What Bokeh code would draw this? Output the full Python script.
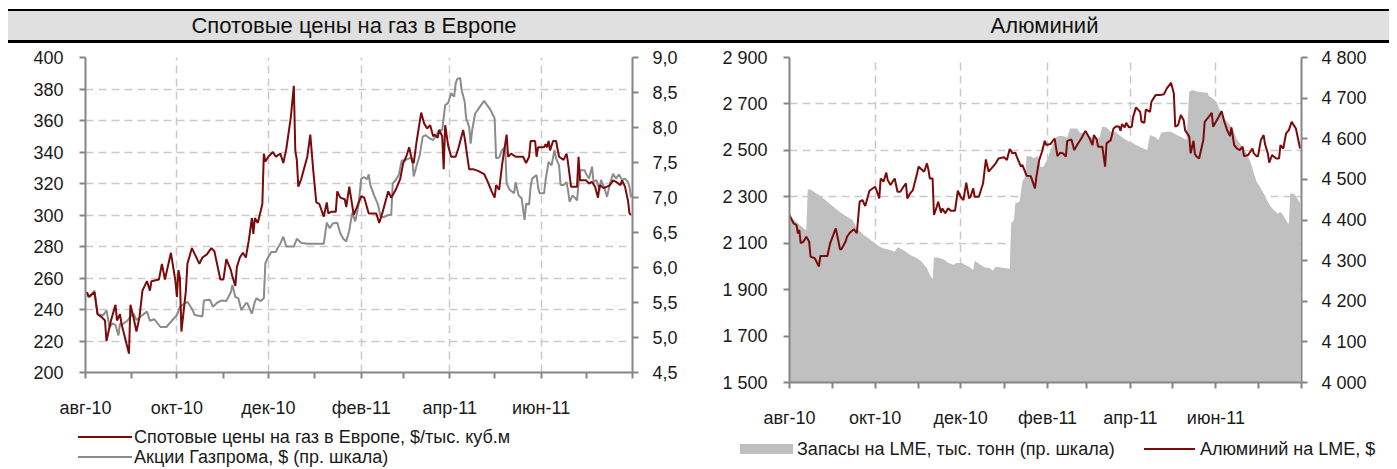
import pandas as pd
from bokeh.plotting import figure
from bokeh.models import Range1d, LinearAxis, FixedTicker, Div
from bokeh.layouts import column, row
from bokeh.embed import file_html
from bokeh.resources import INLINE

FONT = "'Liberation Sans', Arial, sans-serif"
NAN = float("nan")

# ---------------- data: left panel ----------------
gas_dates = [
    "2010-08-02", "2010-08-03", "2010-08-07", "2010-08-09", "2010-08-12", "2010-08-14", "2010-08-15",
    "2010-08-18", "2010-08-21", "2010-08-22", "2010-08-24", "2010-08-25", "2010-08-30", "2010-08-31",
    "2010-09-02", "2010-09-04", "2010-09-06", "2010-09-08", "2010-09-11", "2010-09-13", "2010-09-14",
    "2010-09-19", "2010-09-21", "2010-09-23", "2010-09-27", "2010-09-30", "2010-10-01", "2010-10-02",
    "2010-10-03", "2010-10-04", "2010-10-07", "2010-10-08", "2010-10-11", "2010-10-13", "2010-10-16",
    "2010-10-18", "2010-10-21", "2010-10-24", "2010-10-26", "2010-10-30", "2010-11-01", "2010-11-03",
    "2010-11-06", "2010-11-07", "2010-11-09", "2010-11-10", "2010-11-12", "2010-11-14", "2010-11-16",
    "2010-11-18", "2010-11-20", "2010-11-21", "2010-11-22", "2010-11-24", "2010-11-27", "2010-11-28",
    "2010-11-29", "2010-12-01", "2010-12-04", "2010-12-06", "2010-12-09", "2010-12-11", "2010-12-13",
    "2010-12-16", "2010-12-18", "2010-12-19", "2010-12-20", "2010-12-21", "2010-12-23", "2010-12-27",
    "2010-12-29", "2010-12-31", "2011-01-02", "2011-01-04", "2011-01-07", "2011-01-09", "2011-01-10",
    "2011-01-12", "2011-01-15", "2011-01-16", "2011-01-18", "2011-01-21", "2011-01-22", "2011-01-24",
    "2011-01-27", "2011-02-01", "2011-02-03", "2011-02-06", "2011-02-11", "2011-02-13", "2011-02-15",
    "2011-02-19", "2011-02-21", "2011-02-24", "2011-02-27", "2011-03-01", "2011-03-03", "2011-03-05",
    "2011-03-07", "2011-03-08", "2011-03-10", "2011-03-13", "2011-03-15", "2011-03-17", "2011-03-19",
    "2011-03-21", "2011-03-22", "2011-03-24", "2011-03-25", "2011-03-27", "2011-03-28", "2011-03-29",
    "2011-03-31", "2011-04-02", "2011-04-05", "2011-04-07", "2011-04-10", "2011-04-11", "2011-04-14",
    "2011-04-17", "2011-04-20", "2011-04-24", "2011-04-26", "2011-04-29", "2011-05-01", "2011-05-02",
    "2011-05-04", "2011-05-06", "2011-05-09", "2011-05-10", "2011-05-12", "2011-05-15", "2011-05-18",
    "2011-05-20", "2011-05-22", "2011-05-24", "2011-05-25", "2011-05-28", "2011-05-29", "2011-05-30",
    "2011-06-03", "2011-06-04", "2011-06-05", "2011-06-06", "2011-06-07", "2011-06-09", "2011-06-11",
    "2011-06-13", "2011-06-16", "2011-06-18", "2011-06-19", "2011-06-21", "2011-06-25", "2011-06-26",
    "2011-06-27", "2011-07-01", "2011-07-03", "2011-07-05", "2011-07-07", "2011-07-09", "2011-07-10",
    "2011-07-13", "2011-07-15", "2011-07-17", "2011-07-19", "2011-07-21", "2011-07-24", "2011-07-25",
    "2011-07-27", "2011-07-29", "2011-07-30", "2011-07-31",
]
gas_price = [
    251, 248, 251, 237, 235, 233, 220,
    233, 243, 233, 237, 231, 212, 243,
    235, 226, 235, 252, 258, 252, 258,
    259, 269, 259, 276, 258, 248, 265,
    260, 226, 252, 269, 279, 275, 269,
    273, 275, 279, 277, 259, 259, 272,
    265, 261, 255, 267, 273, 276, 273,
    284, 298, 288, 298, 295, 307, 339,
    334, 337, 340, 337, 339, 333, 342,
    362, 382, 341, 335, 318, 323, 337,
    351, 328, 308, 307, 299, 308, 301,
    302, 302, 315, 311, 310, 305, 318,
    300, 312, 311, 301, 301, 295, 301,
    315, 311, 316, 323, 333, 337, 343,
    334, 333, 347, 365, 358, 355, 357,
    350, 351, 349, 354, 350, 329, 357,
    344, 337, 337, 343, 354, 349, 329,
    329, 328, 326, 322, 315, 311, 319,
    316, 332, 351, 337, 339, 337, 337,
    337, 333, 337, 347, 347, 337, 343,
    343, 345, 343, 347, 341, 347, 347,
    337, 335, 339, 333, 318, 318, 337,
    322, 322, 320, 321, 318, 311, 319,
    317, 318, 319, 322, 321, 319, 322,
    318, 309, 301, 300,
]

gzp_dates = [
    "2010-08-02", "2010-08-04", "2010-08-07", "2010-08-09", "2010-08-11", "2010-08-13", "2010-08-15",
    "2010-08-17", "2010-08-19", "2010-08-21", "2010-08-23", "2010-08-24", "2010-08-25", "2010-08-29",
    "2010-08-31", "2010-09-02", "2010-09-04", "2010-09-08", "2010-09-11", "2010-09-13", "2010-09-16",
    "2010-09-20", "2010-09-24", "2010-09-28", "2010-10-01", "2010-10-03", "2010-10-08", "2010-10-11",
    "2010-10-13", "2010-10-18", "2010-10-19", "2010-10-23", "2010-10-25", "2010-10-28", "2010-10-31",
    "2010-11-03", "2010-11-06", "2010-11-07", "2010-11-09", "2010-11-11", "2010-11-13", "2010-11-16",
    "2010-11-17", "2010-11-20", "2010-11-22", "2010-11-23", "2010-11-26", "2010-11-28", "2010-11-29",
    "2010-12-01", "2010-12-03", "2010-12-06", "2010-12-07", "2010-12-09", "2010-12-11", "2010-12-13",
    "2010-12-16", "2010-12-18", "2010-12-20", "2010-12-23", "2010-12-27", "2011-01-07", "2011-01-09",
    "2011-01-11", "2011-01-13", "2011-01-16", "2011-01-18", "2011-01-20", "2011-01-22", "2011-01-24",
    "2011-01-26", "2011-01-28", "2011-01-30", "2011-02-01", "2011-02-03", "2011-02-05", "2011-02-06",
    "2011-02-07", "2011-02-10", "2011-02-12", "2011-02-14", "2011-02-16", "2011-02-19", "2011-02-21",
    "2011-02-22", "2011-02-24", "2011-02-26", "2011-02-28", "2011-03-02", "2011-03-05", "2011-03-07",
    "2011-03-08", "2011-03-10", "2011-03-12", "2011-03-14", "2011-03-16", "2011-03-19", "2011-03-21",
    "2011-03-23", "2011-03-25", "2011-03-27", "2011-03-29", "2011-03-31", "2011-04-02", "2011-04-04",
    "2011-04-05", "2011-04-06", "2011-04-08", "2011-04-09", "2011-04-11", "2011-04-12", "2011-04-14",
    "2011-04-15", "2011-04-16", "2011-04-18", "2011-04-21", "2011-04-24", "2011-04-28", "2011-05-01",
    "2011-05-02", "2011-05-04", "2011-05-06", "2011-05-08", "2011-05-09", "2011-05-11", "2011-05-14",
    "2011-05-15", "2011-05-17", "2011-05-19", "2011-05-21", "2011-05-22", "2011-05-24", "2011-05-25",
    "2011-05-26", "2011-05-29", "2011-05-30", "2011-05-31", "2011-06-03", "2011-06-04", "2011-06-06",
    "2011-06-08", "2011-06-10", "2011-06-11", "2011-06-13", "2011-06-14", "2011-06-16", "2011-06-18",
    "2011-06-19", "2011-06-20", "2011-06-22", "2011-06-25", "2011-06-26", "2011-06-27", "2011-06-30",
    "2011-07-01", "2011-07-03", "2011-07-05", "2011-07-06", "2011-07-08", "2011-07-10", "2011-07-11",
    "2011-07-13", "2011-07-15", "2011-07-17", "2011-07-19", "2011-07-21", "2011-07-23", "2011-07-25",
    "2011-07-27", "2011-07-29", "2011-07-30", "2011-07-31",
]
gzp_price = [
    5.63, 5.58, 5.67, 5.34, 5.32, 5.32, 5.39,
    5.15, 5.20, 5.18, 5.03, 5.20, 5.18, 5.24,
    5.30, 5.34, 5.25, 5.32, 5.37, 5.24, 5.26,
    5.15, 5.15, 5.25, 5.32, 5.44, 5.51, 5.41,
    5.32, 5.30, 5.53, 5.54, 5.44, 5.50, 5.53,
    5.52, 5.65, 5.75, 5.58, 5.56, 5.39, 5.49,
    5.49, 5.34, 5.51, 5.56, 5.52, 5.56, 6.06,
    6.15, 6.22, 6.22, 6.27, 6.34, 6.44, 6.30,
    6.30, 6.30, 6.41, 6.35, 6.34, 6.34, 6.64,
    6.56, 6.63, 6.64, 6.49, 6.41, 6.37, 6.53,
    6.78, 6.66, 6.87, 7.27, 7.29, 7.26, 7.33,
    7.18, 7.01, 6.91, 6.72, 6.72, 6.75, 6.75,
    7.20, 7.25, 7.32, 7.53, 7.53, 7.56, 7.56,
    7.30, 7.46, 7.60, 7.87, 7.89, 7.84, 7.82,
    7.89, 7.96, 7.96, 8.32, 8.35, 8.49, 8.44,
    8.63, 8.69, 8.71, 8.53, 8.37, 8.13, 8.01,
    7.77, 7.96, 8.20, 8.29, 8.38, 8.26, 8.13,
    7.56, 7.57, 7.68, 7.72, 7.20, 7.11, 7.06,
    7.22, 7.03, 6.99, 6.68, 6.91, 6.90, 7.15,
    7.27, 7.32, 7.15, 7.06, 7.06, 7.25, 7.51,
    7.46, 7.68, 7.56, 7.46, 7.18, 7.18, 7.22,
    7.10, 6.94, 7.03, 6.96, 7.20, 7.39, 7.39,
    7.34, 7.27, 7.44, 7.22, 7.25, 7.10, 7.25,
    7.15, 7.01, 7.20, 7.34, 7.27, 7.33, 7.25,
    7.27, 7.22, 7.15, 7.00,
]

# ---------------- data: right panel ----------------
alu_dates = [
    "2010-08-01", "2010-08-04", "2010-08-06", "2010-08-07", "2010-08-08", "2010-08-09", "2010-08-11",
    "2010-08-13", "2010-08-15", "2010-08-16", "2010-08-19", "2010-08-22", "2010-08-23", "2010-08-28",
    "2010-08-30", "2010-09-03", "2010-09-04", "2010-09-06", "2010-09-07", "2010-09-10", "2010-09-11",
    "2010-09-13", "2010-09-16", "2010-09-18", "2010-09-20", "2010-09-22", "2010-09-24", "2010-09-27",
    "2010-10-01", "2010-10-02", "2010-10-04", "2010-10-05", "2010-10-07", "2010-10-09", "2010-10-10",
    "2010-10-12", "2010-10-15", "2010-10-17", "2010-10-19", "2010-10-21", "2010-10-23", "2010-10-24",
    "2010-10-26", "2010-10-28", "2010-10-31", "2010-11-01", "2010-11-03", "2010-11-05", "2010-11-07",
    "2010-11-08", "2010-11-09", "2010-11-11", "2010-11-12", "2010-11-14", "2010-11-15", "2010-11-17",
    "2010-11-18", "2010-11-20", "2010-11-22", "2010-11-24", "2010-11-27", "2010-11-29", "2010-12-01",
    "2010-12-03", "2010-12-05", "2010-12-07", "2010-12-08", "2010-12-10", "2010-12-11", "2010-12-14",
    "2010-12-17", "2010-12-19", "2010-12-21", "2010-12-23", "2010-12-26", "2010-12-28", "2011-01-01",
    "2011-01-03", "2011-01-05", "2011-01-07", "2011-01-09", "2011-01-10", "2011-01-13", "2011-01-14",
    "2011-01-17", "2011-01-20", "2011-01-23", "2011-01-24", "2011-01-26", "2011-01-28", "2011-01-30",
    "2011-01-31", "2011-02-03", "2011-02-06", "2011-02-08", "2011-02-10", "2011-02-12", "2011-02-14",
    "2011-02-15", "2011-02-18", "2011-02-20", "2011-02-22", "2011-02-25", "2011-02-28", "2011-03-03",
    "2011-03-05", "2011-03-06", "2011-03-08", "2011-03-09", "2011-03-12", "2011-03-14", "2011-03-15",
    "2011-03-18", "2011-03-20", "2011-03-22", "2011-03-24", "2011-03-25", "2011-03-26", "2011-03-28",
    "2011-03-29", "2011-03-31", "2011-04-02", "2011-04-03", "2011-04-05", "2011-04-08", "2011-04-09",
    "2011-04-11", "2011-04-12", "2011-04-15", "2011-04-16", "2011-04-19", "2011-04-22", "2011-04-25",
    "2011-04-27", "2011-04-30", "2011-05-02", "2011-05-03", "2011-05-05", "2011-05-07", "2011-05-09",
    "2011-05-10", "2011-05-13", "2011-05-14", "2011-05-16", "2011-05-17", "2011-05-18", "2011-05-20",
    "2011-05-23", "2011-05-24", "2011-05-27", "2011-05-29", "2011-05-30", "2011-06-01", "2011-06-03",
    "2011-06-05", "2011-06-07", "2011-06-09", "2011-06-11", "2011-06-12", "2011-06-14", "2011-06-16",
    "2011-06-18", "2011-06-20", "2011-06-21", "2011-06-24", "2011-06-27", "2011-06-28", "2011-06-30",
    "2011-07-01", "2011-07-03", "2011-07-05", "2011-07-06", "2011-07-08", "2011-07-09", "2011-07-11",
    "2011-07-12", "2011-07-14", "2011-07-16", "2011-07-17", "2011-07-19", "2011-07-21", "2011-07-23",
    "2011-07-25", "2011-07-26", "2011-07-28", "2011-07-29", "2011-07-31",
]
alu_price = [
    2221, 2185, 2178, 2142, 2157, 2100, 2107,
    2128, 2107, 2042, 2035, 2000, 2045, 2045,
    2100, 2164, 2135, 2074, 2074, 2107, 2128,
    2145, 2160, 2143, 2279, 2286, 2260, 2326,
    2343, 2329, 2293, 2379, 2365, 2404, 2372,
    2351, 2379, 2322, 2322, 2341, 2358, 2293,
    2315, 2329, 2401, 2430, 2419, 2408, 2444,
    2418, 2379, 2379, 2222, 2257, 2279, 2232,
    2250, 2229, 2250, 2240, 2240, 2326, 2300,
    2286, 2361, 2293, 2300, 2336, 2300, 2300,
    2358, 2461, 2408, 2422, 2444, 2465, 2470,
    2458, 2506, 2487, 2490, 2473, 2430, 2437,
    2391, 2389, 2336, 2386, 2458, 2494, 2541,
    2523, 2527, 2551, 2475, 2490, 2487, 2473,
    2541, 2547, 2501, 2523, 2551, 2584, 2551,
    2523, 2566, 2547, 2516, 2516, 2430, 2530,
    2544, 2594, 2604, 2602, 2584, 2613, 2599,
    2619, 2599, 2602, 2645, 2685, 2666, 2623,
    2619, 2676, 2666, 2709, 2738, 2738, 2742,
    2767, 2791, 2745, 2602, 2609, 2652, 2630,
    2587, 2559, 2487, 2541, 2484, 2475, 2465,
    2544, 2623, 2645, 2662, 2602, 2623, 2645,
    2669, 2623, 2587, 2561, 2599, 2523, 2508,
    2501, 2516, 2475, 2480, 2508, 2487, 2475,
    2475, 2544, 2566, 2527, 2487, 2447, 2480,
    2475, 2465, 2465, 2523, 2508, 2573, 2587,
    2623, 2613, 2594, 2566, 2508,
]

lme_dates = [
    "2010-08-01", "2010-08-04", "2010-08-07", "2010-08-11", "2010-08-13", "2010-08-14", "2010-08-16",
    "2010-08-18", "2010-08-23", "2010-08-28", "2010-09-01", "2010-09-06", "2010-09-11", "2010-09-15",
    "2010-09-18", "2010-09-23", "2010-09-28", "2010-10-02", "2010-10-07", "2010-10-12", "2010-10-15",
    "2010-10-17", "2010-10-19", "2010-10-23", "2010-10-26", "2010-10-31", "2010-11-03", "2010-11-07",
    "2010-11-09", "2010-11-11", "2010-11-12", "2010-11-15", "2010-11-19", "2010-11-22", "2010-11-26",
    "2010-11-28", "2010-12-02", "2010-12-04", "2010-12-07", "2010-12-10", "2010-12-11", "2010-12-13",
    "2010-12-15", "2010-12-18", "2010-12-22", "2010-12-24", "2010-12-26", "2010-12-29", "2011-01-02",
    "2011-01-05", "2011-01-06", "2011-01-08", "2011-01-09", "2011-01-12", "2011-01-14", "2011-01-16",
    "2011-01-17", "2011-01-20", "2011-01-22", "2011-01-25", "2011-01-27", "2011-01-29", "2011-02-01",
    "2011-02-03", "2011-02-07", "2011-02-09", "2011-02-12", "2011-02-15", "2011-02-17", "2011-02-22",
    "2011-02-24", "2011-02-28", "2011-03-04", "2011-03-07", "2011-03-10", "2011-03-12", "2011-03-15",
    "2011-03-18", "2011-03-21", "2011-03-24", "2011-03-27", "2011-03-31", "2011-04-03", "2011-04-08",
    "2011-04-13", "2011-04-15", "2011-04-19", "2011-04-21", "2011-04-22", "2011-04-23", "2011-04-27",
    "2011-04-28", "2011-04-29", "2011-04-30", "2011-05-04", "2011-05-08", "2011-05-11", "2011-05-13",
    "2011-05-15", "2011-05-19", "2011-05-26", "2011-05-27", "2011-05-30", "2011-06-02", "2011-06-05",
    "2011-06-09", "2011-06-13", "2011-06-16", "2011-06-20", "2011-06-23", "2011-06-26", "2011-06-28",
    "2011-06-30", "2011-07-03", "2011-07-05", "2011-07-08", "2011-07-10", "2011-07-12", "2011-07-15",
    "2011-07-17", "2011-07-19", "2011-07-22", "2011-07-23", "2011-07-24", "2011-07-27", "2011-07-29",
    "2011-07-31",
]
lme_stock = [
    4404, 4400, 4392, 4380, 4375, 4475, 4475,
    4470, 4459, 4445, 4433, 4420, 4408, 4400,
    4380, 4363, 4351, 4339, 4330, 4326, 4322,
    4333, 4330, 4322, 4314, 4306, 4298, 4281,
    4265, 4254, 4308, 4308, 4303, 4295, 4290,
    4294, 4294, 4290, 4285, 4277, 4299, 4296,
    4290, 4284, 4281, 4275, 4285, 4284, 4281,
    4280, 4392, 4400, 4441, 4445, 4494, 4507,
    4557, 4557, 4552, 4557, 4530, 4531, 4550,
    4572, 4603, 4607, 4607, 4603, 4625, 4625,
    4615, 4613, 4603, 4601, 4603, 4630, 4628,
    4617, 4617, 4609, 4601, 4593, 4589, 4580,
    4572, 4609, 4603, 4597, NAN, 4615, 4617,
    4617, NAN, 4617, 4609, 4603, 4597, 4716,
    4720, 4716, 4713, 4705, 4699, 4687, 4658,
    4642, 4625, 4598, 4580, 4564, 4539, 4515,
    4494, 4478, 4466, 4445, 4433, 4425, 4416,
    4420, 4412, 4393, 4390, 4466, 4464, 4453,
    4441,
]

# ---------------- axes: ticks and labels ----------------
month_ticks = ["2010-08-01", "2010-09-01", "2010-10-01", "2010-11-01", "2010-12-01", "2011-01-01",
               "2011-02-01", "2011-03-01", "2011-04-01", "2011-05-01", "2011-06-01", "2011-07-01",
               "2011-08-01"]
month_labels = ["авг-10", "", "окт-10", "", "дек-10", "", "фев-11", "", "апр-11", "", "июн-11", "", ""]
grid_months = ["2010-10-01", "2010-12-01", "2011-02-01", "2011-04-01", "2011-06-01"]

gas_ticks = [200, 220, 240, 260, 280, 300, 320, 340, 360, 380, 400]
gzp_ticks = [4.5, 5.0, 5.5, 6.0, 6.5, 7.0, 7.5, 8.0, 8.5, 9.0]
gzp_labels = ["4,5", "5,0", "5,5", "6,0", "6,5", "7,0", "7,5", "8,0", "8,5", "9,0"]
alu_ticks = [1500, 1700, 1900, 2100, 2300, 2500, 2700, 2900]
alu_labels = ["1 500", "1 700", "1 900", "2 100", "2 300", "2 500", "2 700", "2 900"]
stock_ticks = [4000, 4100, 4200, 4300, 4400, 4500, 4600, 4700, 4800]
stock_labels = ["4 000", "4 100", "4 200", "4 300", "4 400", "4 500", "4 600", "4 700", "4 800"]

title_left = "Спотовые цены на газ в Европе"
title_right = "Алюминий"
leg_gas = "Спотовые цены на газ в Европе, $/тыс. куб.м"
leg_gzp = "Акции Газпрома, $ (пр. шкала)"
leg_stock = "Запасы на LME, тыс. тонн (пр. шкала)"
leg_alu = "Алюминий на LME, $"

RED = "#7b0a0a"
GRAYLINE = "#8c8c8c"
AREA = "#c0c0c0"
AXIS = "#868686"
GRID = "#cacaca"
TXT = "#1a1a1a"
TICK_SIZE = "18px"


def to_ms(dates):
    return [float(v) for v in (pd.to_datetime(dates).astype("int64") // 10**6)]


month_ms = to_ms(month_ticks)
grid_ms = to_ms(grid_months)


def style_axis(ax):
    ax.axis_line_color = AXIS
    ax.axis_line_width = 2
    ax.major_tick_line_color = AXIS
    ax.major_tick_line_width = 2
    ax.major_tick_out = 6
    ax.major_tick_in = 0
    ax.minor_tick_out = 0
    ax.minor_tick_in = 0
    ax.major_label_text_font = FONT
    ax.major_label_text_font_size = TICK_SIZE
    ax.major_label_text_color = TXT


def make_fig(fw, fh, left, right, top, bottom, y0, y1, yticks, ylabels=None):
    p = figure(frame_width=fw, frame_height=fh, x_axis_type="datetime",
               x_range=Range1d(pd.Timestamp(month_ticks[0]), pd.Timestamp(month_ticks[-1])),
               y_range=Range1d(y0, y1), output_backend="svg", toolbar_location=None,
               min_border_left=left, min_border_right=right, min_border_top=top,
               min_border_bottom=bottom, margin=0)
    p.outline_line_color = None
    p.xaxis.ticker = FixedTicker(ticks=month_ms)
    p.xaxis.major_label_overrides = dict(zip(month_ms, month_labels))
    p.xaxis.major_label_standoff = 19
    p.yaxis.ticker = FixedTicker(ticks=yticks)
    if ylabels:
        p.yaxis.major_label_overrides = dict(zip(yticks, ylabels))
    p.yaxis.major_label_standoff = 16
    style_axis(p.xaxis[0])
    style_axis(p.yaxis[0])
    p.xgrid.ticker = FixedTicker(ticks=grid_ms)
    p.ygrid.ticker = FixedTicker(ticks=yticks)
    for g in (p.xgrid[0], p.ygrid[0]):
        g.grid_line_color = GRID
        g.grid_line_width = 1.5
        g.grid_line_dash = "8 5"
    return p


# ---------------- left panel ----------------
p1 = make_fig(547, 315, 77, 68, 14, 50, 200, 400, gas_ticks)
p1.extra_y_ranges = {"gzp": Range1d(4.5, 9.0)}
ax_r1 = LinearAxis(y_range_name="gzp", ticker=FixedTicker(ticks=gzp_ticks),
                   major_label_overrides=dict(zip(gzp_ticks, gzp_labels)))
style_axis(ax_r1)
ax_r1.major_label_standoff = 14
p1.add_layout(ax_r1, "right")

p1.line(pd.to_datetime(gzp_dates), gzp_price, y_range_name="gzp",
        line_color=GRAYLINE, line_width=2)
p1.line(pd.to_datetime(gas_dates), gas_price, line_color=RED, line_width=2)

# ---------------- right panel ----------------
p2 = make_fig(512, 325, 89, 88, 14, 50, 1500, 2900, alu_ticks, alu_labels)
p2.extra_y_ranges = {"stock": Range1d(4000, 4800)}
ax_r2 = LinearAxis(y_range_name="stock", ticker=FixedTicker(ticks=stock_ticks),
                   major_label_overrides=dict(zip(stock_ticks, stock_labels)))
style_axis(ax_r2)
ax_r2.major_label_standoff = 14
p2.add_layout(ax_r2, "right")

p2.varea(x=pd.to_datetime(lme_dates), y1=0, y2=lme_stock, y_range_name="stock", fill_color=AREA)
p2.line(pd.to_datetime(alu_dates), alu_price, line_color=RED, line_width=2)

# ---------------- legends (HTML keys under each chart) ----------------
leg_text_style = {
    "font-family": FONT,
    "font-size": "18px",
    "line-height": "20px",
    "color": TXT,
    "white-space": "nowrap",
    "overflow": "hidden",
}


def line_key(color, width, gap):
    return (f'<span style="display:inline-block;width:{width}px;height:2px;'
            f'background:{color};margin-right:{gap}px;vertical-align:middle"></span>')


def box_key(color, width, height, gap):
    return (f'<span style="display:inline-block;width:{width}px;height:{height}px;'
            f'background:{color};margin-right:{gap}px;vertical-align:middle"></span>')


leg1_html = (
    '<div style="padding:5px 0 0 70px">'
    f'<div style="height:20px;display:flex;align-items:center">{line_key(RED, 54, 2)}{leg_gas}</div>'
    f'<div style="height:20px;display:flex;align-items:center">{line_key(GRAYLINE, 54, 2)}{leg_gzp}</div>'
    '</div>'
)
leg2_html = (
    '<div style="padding:14px 0 0 40px;height:20px;display:flex;align-items:center">'
    f'<div style="width:404px;display:flex;align-items:center">{box_key(AREA, 53, 10, 4)}{leg_stock}</div>'
    f'<div style="display:flex;align-items:center">{line_key(RED, 51, 5)}{leg_alu}</div>'
    '</div>'
)
lg1 = Div(text=leg1_html, width=692, height=47, margin=0, styles=leg_text_style)
lg2 = Div(text=leg2_html, width=689, height=37, margin=0, styles=leg_text_style)

# ---------------- title band ----------------
band_style = {
    "background-color": "#e0e0e0",
    "border-top": "2px solid #000",
    "border-bottom": "3px solid #000",
    "box-sizing": "border-box",
    "text-align": "center",
    "font-family": FONT,
    "font-size": "22px",
    "line-height": "29px",
    "color": "#111",
}
d1 = Div(text=title_left, width=692, height=34, margin=0, styles=band_style)
d2 = Div(text=title_right, width=689, height=34, margin=0, styles=band_style)

layout = row(column(d1, p1, lg1, spacing=0, margin=0),
             column(d2, p2, lg2, spacing=0, margin=0),
             spacing=0, margin=(9, 0, 0, 8))

open("out.html", "w").write(file_html(layout, INLINE))
